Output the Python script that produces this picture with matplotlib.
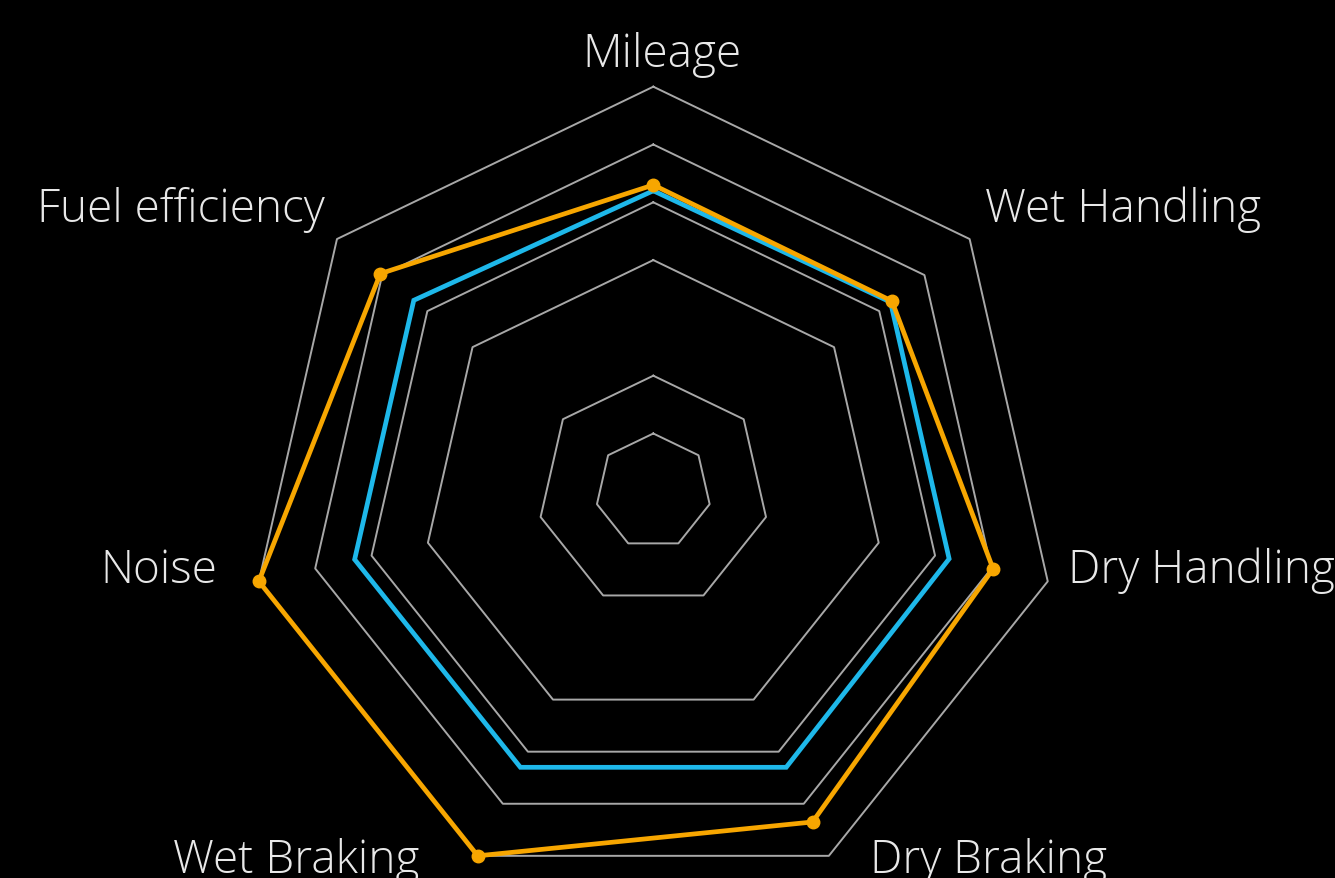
import numpy as np
import matplotlib
matplotlib.use("Agg")
import matplotlib.pyplot as plt

categories = ["Mileage", "Wet Handling", "Dry Handling", "Dry Braking",
              "Wet Braking", "Noise", "Fuel efficiency"]
series_orange = [5.3, 5.28, 6.03, 6.35, 7.0, 7.0, 6.04]
series_cyan = [5.2, 5.25, 5.25, 5.3, 5.3, 5.3, 5.3]
grid_levels = [1, 2, 4, 5, 6, 7]

n = len(categories)
angles = np.pi / 2 - np.arange(n) * 2 * np.pi / n


def to_xy(values):
    v = np.asarray(values, dtype=float)
    x = v * np.cos(angles)
    y = v * np.sin(angles)
    return np.append(x, x[0]), np.append(y, y[0])


W, H = 1335, 879
fig = plt.figure(figsize=(W / 100, H / 100), dpi=100, facecolor="black")
ax = fig.add_axes([0, 0, 1, 1])
ax.set_facecolor("black")
unit = 57.8
cx, cy = 653.3, 492.3
ax.set_xlim(-cx / unit, (W - cx) / unit)
ax.set_ylim(-(H - cy) / unit, cy / unit)
ax.set_aspect("equal")
ax.axis("off")

for lvl in grid_levels:
    gx, gy = to_xy([lvl] * n)
    ax.plot(gx, gy, color="#a8a8a8", lw=1.4, zorder=1)

x, y = to_xy(series_cyan)
ax.plot(x, y, color="#1eb8ea", lw=3.4, solid_joinstyle="miter", zorder=2)

x, y = to_xy(series_orange)
ax.plot(x, y, color="#f7a600", lw=3.4, solid_joinstyle="miter", zorder=3)
ax.plot(x[:-1], y[:-1], "o", color="#f7a600", ms=9, zorder=4)

label_pos = {
    "Mileage": (0.15, 7.36, "center"),
    "Wet Handling": (5.74, 4.68, "left"),
    "Dry Handling": (7.17, -1.57, "left"),
    "Dry Braking": (3.75, -6.58, "left"),
    "Wet Braking": (-4.04, -6.58, "right"),
    "Noise": (-7.55, -1.57, "right"),
    "Fuel efficiency": (-5.68, 4.68, "right"),
}
for cat in categories:
    lx, ly, ha = label_pos[cat]
    ax.text(lx, ly, cat, color="#e8e8e8", fontsize=33, ha=ha, va="baseline",
            family=["Open Sans", "DejaVu Sans"], fontweight="light")

fig.savefig("out.png", dpi=100, facecolor="black")
